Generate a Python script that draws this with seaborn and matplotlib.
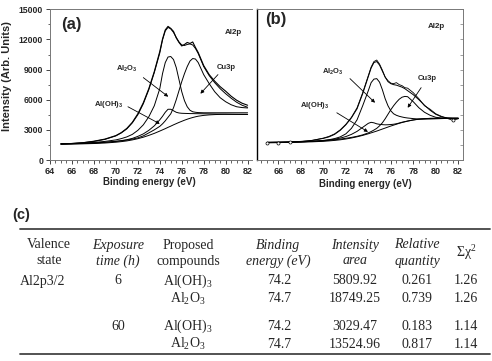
import matplotlib
matplotlib.use("Agg")
import matplotlib.pyplot as plt
import seaborn as sns
from matplotlib.ticker import MultipleLocator

# Style
sns.set_style("ticks")
plt.rcParams['font.family'] = ['Liberation Sans', 'DejaVu Sans']
plt.rcParams['mathtext.fontset'] = 'custom'
plt.rcParams['mathtext.rm'] = 'Liberation Serif'
plt.rcParams['mathtext.it'] = 'Liberation Serif:italic'
plt.rcParams['mathtext.bf'] = 'Liberation Sans:bold'

# Binding energy grid (eV)
energy = [65, 66, 67, 68, 69, 70, 70.5, 71, 71.5, 72, 72.5, 73, 73.5, 74, 74.25,
          74.5, 74.75, 75, 75.25, 75.5, 75.75, 76, 76.25, 76.5, 76.75, 77, 77.25,
          77.5, 78, 78.5, 79, 79.5, 80, 80.5, 81, 81.5, 82]

# Panel (a) - 6 h exposure
a_data = [1580, 1640, 1720, 1870, 2080, 2430, 2730, 3150, 3750, 4600, 5700, 7100,
          8800, 10800, 12050, 12950, 13300, 13100, 12800, 12150, 11700, 11350,
          11500, 11700, 11600, 11750, 11200, 10700, 9400, 8500, 7850, 7300, 6850,
          6350, 5950, 5650, 5450]
a_fit = [1600, 1650, 1720, 1850, 2050, 2400, 2700, 3100, 3700, 4500, 5600, 7000,
         8700, 10650, 11950, 12850, 13200, 13050, 12700, 12200, 11750, 11450, 11400,
         11500, 11550, 11450, 11100, 10600, 9300, 8400, 7700, 7100, 6600, 6150,
         5750, 5450, 5250]
a_al2o3 = [1600, 1630, 1680, 1750, 1850, 2000, 2130, 2300, 2550, 2950, 3500, 4300,
           5400, 7100, 8600, 9700, 10250, 10300, 10000, 9200, 8000, 6800, 5900, 5300,
           4950, 4800, 4750, 4720, 4700, 4700, 4700, 4700, 4700, 4700, 4700, 4700,
           4700]
a_cu3p = [1600, 1620, 1650, 1700, 1760, 1850, 1910, 1980, 2080, 2200, 2400, 2700,
          3000, 3350, 3600, 3900, 4250, 4600, 5200, 6000, 6900, 7800, 8600, 9300,
          9850, 10100, 10050, 9700, 8500, 7600, 6800, 6200, 5800, 5500, 5300, 5220,
          5180]
a_aloh = [1600, 1610, 1640, 1690, 1760, 1860, 1930, 2020, 2150, 2350, 2600, 2950,
          3400, 4000, 4350, 4750, 5050, 5050, 4900, 4750, 4680, 4650, 4640, 4630,
          4620, 4620, 4610, 4610, 4600, 4590, 4580, 4570, 4560, 4550, 4540, 4535,
          4530]
a_bg = [1600, 1600, 1610, 1640, 1690, 1770, 1830, 1900, 2000, 2120, 2270, 2450,
        2650, 2880, 3000, 3120, 3250, 3370, 3500, 3620, 3740, 3850, 3960, 4060,
        4150, 4230, 4300, 4360, 4440, 4490, 4520, 4540, 4550, 4550, 4550, 4550, 4550]

# Panel (b) - 60 h exposure
b_data = [1700, 1720, 1760, 1830, 1950, 2180, 2350, 2600, 3000, 3550, 4250, 5200,
          6700, 8400, 9250, 9800, 9950, 9550, 8950, 8250, 7900, 7650, 7600, 7700,
          7500, 7400, 7200, 7150, 6700, 6100, 5400, 5050, 4600, 4350, 4150, 3950,
          4100]
b_fit = [1750, 1770, 1800, 1850, 1950, 2150, 2300, 2550, 2950, 3500, 4200, 5100,
         6600, 8300, 9150, 9700, 9800, 9450, 8850, 8250, 7800, 7600, 7500, 7450,
         7350, 7250, 7100, 6900, 6500, 6000, 5450, 4950, 4550, 4300, 4200, 4150, 4150]
b_al2o3 = [1750, 1760, 1780, 1810, 1860, 1950, 2020, 2130, 2300, 2600, 3150, 4000,
           5400, 6900, 7700, 8050, 8100, 7750, 7000, 6100, 5400, 4900, 4600, 4450,
           4350, 4280, 4220, 4180, 4120, 4080, 4070, 4080, 4100, 4120, 4140, 4150,
           4150]
b_cu3p = [1750, 1760, 1780, 1810, 1850, 1910, 1960, 2010, 2080, 2160, 2250, 2360,
          2500, 2700, 2830, 2980, 3150, 3400, 3700, 4100, 4550, 5000, 5400, 5750,
          6050, 6250, 6330, 6300, 5800, 5200, 4750, 4450, 4250, 4180, 4150, 4150,
          4150]
b_aloh = [1750, 1760, 1780, 1810, 1860, 1930, 1990, 2070, 2180, 2330, 2550, 2850,
          3250, 3650, 3750, 3700, 3600, 3550, 3520, 3500, 3510, 3530, 3560, 3610,
          3680, 3760, 3820, 3880, 3990, 4070, 4120, 4145, 4150, 4150, 4150, 4150,
          4150]
b_bg = [1750, 1750, 1760, 1780, 1810, 1860, 1900, 1950, 2010, 2090, 2190, 2310,
        2450, 2610, 2700, 2790, 2880, 2980, 3080, 3180, 3280, 3380, 3470, 3560,
        3650, 3730, 3800, 3870, 3980, 4060, 4110, 4140, 4150, 4150, 4150, 4150, 4150]

# Table (c)
col_top = ['Valence', 'Exposure', 'Proposed', 'Binding', 'Intensity', 'Relative']
col_bot = ['state', 'time (h)', 'compounds', 'energy (eV)', 'area', 'quantity']
col_italic = [False, True, False, True, True, True]
valence = ['Al2p3/2', '', '', '']
exposure = ['6', '', '60', '']
compounds = [r'Al(OH)$_\mathrm{3}$', r'Al$_\mathrm{2}$O$_\mathrm{3}$',
             r'Al(OH)$_\mathrm{3}$', r'Al$_\mathrm{2}$O$_\mathrm{3}$']
binding = ['74.2', '74.7', '74.2', '74.7']
area = ['5809.92', '18749.25', '3029.47', '13524.96']
relative = ['0.261', '0.739', '0.183', '0.817']
chi2 = ['1.26', '1.26', '1.14', '1.14']

fig = plt.figure(figsize=(4.92, 3.61), dpi=100)
ax_a = fig.add_axes([50 / 492, 1 - 160 / 361, 202 / 492, 150.7 / 361])
ax_b = fig.add_axes([257 / 492, 1 - 160 / 361, 206.3 / 492, 150.7 / 361])


def draw_spectrum(ax, data, fit, al2o3, cu3p, aloh, bg, data_marker):
    for comp in [bg, aloh, cu3p, al2o3, fit]:
        sns.lineplot(x=energy, y=comp, ax=ax, color='black', lw=0.7)
    if data_marker:
        sns.lineplot(x=energy, y=data, ax=ax, color='black', lw=0.6, marker='o',
                     markersize=2.2, markerfacecolor='white', markeredgecolor='black',
                     markeredgewidth=0.5, markevery=[0, 1, 2, 35])
    else:
        sns.lineplot(x=energy, y=data, ax=ax, color='black', lw=0.8)
    ax.set_ylim(0, 15000)
    ax.xaxis.set_major_locator(MultipleLocator(2))
    ax.xaxis.set_minor_locator(MultipleLocator(0.5))
    ax.yaxis.set_major_locator(MultipleLocator(3000))
    ax.yaxis.set_minor_locator(MultipleLocator(1500))
    ax.tick_params(axis='x', which='major', length=3, width=0.6, labelsize=6.5, pad=2)
    ax.tick_params(axis='x', which='minor', length=1.8, width=0.5)
    ax.set_xlabel('Binding energy (eV)', fontsize=7, fontweight='bold')
    for sp in ax.spines.values():
        sp.set_color('#777777')
        sp.set_linewidth(0.7)


def annotate(ax, label, text_xy, tail, head):
    ax.text(*text_xy, label, fontsize=5.5, fontweight='bold', ha='center', va='center')
    ax.annotate('', xy=head, xytext=tail,
                arrowprops=dict(arrowstyle='-|>', lw=0.6, color='black',
                                mutation_scale=5, shrinkA=0, shrinkB=0))


draw_spectrum(ax_a, a_data, a_fit, a_al2o3, a_cu3p, a_aloh, a_bg, False)
ax_a.set_xlim(64, 82.4)
ax_a.spines['right'].set_visible(False)
ax_a.tick_params(axis='y', which='major', length=3, width=0.6, labelsize=6.2, pad=2)
ax_a.tick_params(axis='y', which='minor', length=1.8, width=0.5)
ax_a.set_ylabel('Intensity (Arb. Units)', fontsize=8, fontweight='bold')
ax_a.yaxis.set_label_coords(-0.188, 0.56)
ax_a.xaxis.set_label_coords(0.49, -0.115)
ax_a.text(65.0, 13450, '(a)', fontsize=12, fontweight='bold', va='center')
ax_a.text(80.7, 12700, 'Al2p', fontsize=5.8, fontweight='bold', ha='center', va='center')
annotate(ax_a, r'Al$_{\mathbf{2}}$O$_{\mathbf{3}}$', (71.0, 9100), (72.5, 8200), (74.77, 6300))
annotate(ax_a, 'Cu3p', (80.05, 9200), (79.3, 8500), (77.7, 6600))
annotate(ax_a, r'Al(OH)$_{\mathbf{3}}$', (69.3, 5500), (71.1, 5300), (74.0, 3600))

draw_spectrum(ax_b, b_data, b_fit, b_al2o3, b_cu3p, b_aloh, b_bg, True)
ax_b.set_xlim(64.1, 82.45)
ax_b.spines['left'].set_color('black')
ax_b.spines['left'].set_linewidth(1.0)
ax_b.tick_params(axis='y', which='both', left=False, labelleft=False, right=True,
                 direction='in', length=2, width=0.5, color='#777777')
ax_b.xaxis.set_label_coords(0.524, -0.125)
ax_b.text(64.8, 14000, '(b)', fontsize=12, fontweight='bold', va='center')
ax_b.text(80.1, 13300, 'Al2p', fontsize=5.8, fontweight='bold', ha='center', va='center')
annotate(ax_b, r'Al$_{\mathbf{2}}$O$_{\mathbf{3}}$', (70.86, 8800), (72.37, 8100), (74.6, 5700))
annotate(ax_b, 'Cu3p', (79.2, 8100), (78.7, 7200), (77.5, 5200))
annotate(ax_b, r'Al(OH)$_{\mathbf{3}}$', (69.26, 5400), (71.2, 4700), (73.97, 2800))

for ax in (ax_a, ax_b):
    plt.setp(ax.get_xticklabels(), fontweight='bold')
    plt.setp(ax.get_yticklabels(), fontweight='bold')

# Table (c), drawn in a pixel-scaled axes
tax = fig.add_axes([0, 0, 1, 166 / 361])
tax.set_xlim(0, 492)
tax.set_ylim(361, 195)
tax.axis('off')
tax.text(12, 215, '(c)', fontsize=10.5, fontweight='bold', va='center')
tax.plot([20, 490], [229, 229], color='#444444', lw=1.3)
tax.plot([20, 490], [354, 354], color='#444444', lw=1.3)

serif = 'Liberation Serif'
fs = 10
head_x = [49, 118, 188, 278, 355, 417]
for i in range(len(col_top)):
    style = 'italic' if col_italic[i] else 'normal'
    tax.text(head_x[i], 245, col_top[i], family=serif, style=style, fontsize=fs,
             ha='center', va='center')
    tax.text(head_x[i], 261, col_bot[i], family=serif, style=style, fontsize=fs,
             ha='center', va='center')
tax.text(466, 253, 'Σχ$^\\mathrm{2}$', family=serif, fontsize=fs, ha='center', va='center')

row_y = [281, 299, 326, 344]
row_x = [43, 118, 188, 279, 355, 417, 466]
for r in range(4):
    cells = [valence[r], exposure[r], compounds[r], binding[r], area[r], relative[r], chi2[r]]
    for c, val in enumerate(cells):
        tax.text(row_x[c], row_y[r], val, family=serif, fontsize=fs, ha='center', va='center')

fig.savefig('out.png', dpi=100)
